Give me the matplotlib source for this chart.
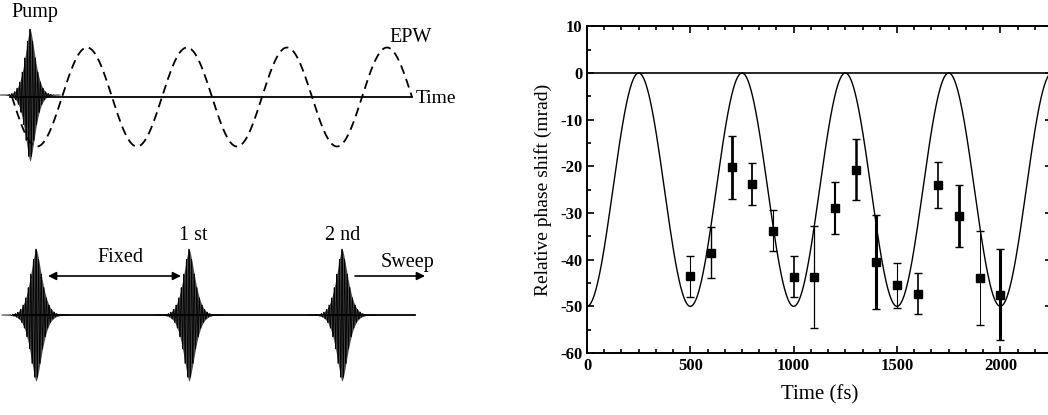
import numpy as np
import matplotlib
matplotlib.use("Agg")
import matplotlib.pyplot as plt
from matplotlib.ticker import MultipleLocator

plt.rcParams['font.family'] = ['Liberation Serif', 'DejaVu Serif']
plt.rcParams['axes.unicode_minus'] = False

# measured phase shift (mrad) vs probe delay (fs)
delay = [500, 600, 700, 800, 900, 1000, 1100, 1200, 1300, 1400,
         1500, 1600, 1700, 1800, 1900, 2000]
shift = [-43.6, -38.5, -20.2, -23.7, -33.8, -43.7, -43.7, -28.9, -20.7, -40.5,
         -45.5, -47.3, -24.0, -30.7, -43.9, -47.5]
err = [4.4, 5.5, 6.7, 4.5, 4.4, 4.4, 11.0, 5.5, 6.6, 10.0,
       4.8, 4.4, 5.0, 6.6, 10.0, 9.7]
bar_lw = [0.8, 1.0, 2.0, 1.3, 0.8, 1.2, 0.9, 1.5, 1.8, 2.2,
          0.8, 1.2, 1.2, 2.0, 0.7, 2.2]

# fitted plasma wave: offset - amp*cos(2*pi*t/period)
fit_period = 500.0
fit_amp = 25.0
fit_offset = -25.0

# schematic: pulse positions (left panel, pixel units)
pump_top = 30
probe_pos = [36, 189, 342]

fig = plt.figure(figsize=(10.48, 4.15), dpi=100)

# ---------------- left: schematic ----------------
ax0 = fig.add_axes([0, 0, 470 / 1048, 1])
ax0.set_xlim(0, 470)
ax0.set_ylim(415, 0)
ax0.axis('off')


def pulse(ax, x0, y0, h, w):
    xx = np.linspace(x0 - 4 * w, x0 + 4 * w, 1500)
    env = h * np.exp(-np.abs((xx - x0) / w) ** 1.5)
    ax.fill_between(xx, y0 - env, y0 + env, color='black', lw=0, alpha=0.7)
    ax.plot(xx, y0 - env * np.cos(2 * np.pi * (xx - x0) / 2.6), color='black', lw=0.6)


# top: pump + EPW
ax0.plot([10, 412], [97, 97], color='black', lw=1.3)
xw = np.linspace(12, 412, 800)
ax0.plot(xw, 97 + 49.5 * np.sin(2 * np.pi * (xw - 12) / 100), color='black',
         lw=1.3, ls=(0, (5, 3)))
pulse(ax0, pump_top, 95, 66, 7.5)
ax0.text(11, 12, "Pump", fontsize=14.5, va='center', ha='left')
ax0.text(389, 37, "EPW", fontsize=14.5, va='center', ha='left')
ax0.text(416, 98, "Time", fontsize=14, va='center', ha='left')

# bottom: pump, 1st and 2nd probe
ax0.plot([14, 415], [315, 315], color='black', lw=1.3)
for xp in probe_pos:
    pulse(ax0, xp, 315, 66, 8.5)
ax0.annotate("", xy=(48, 276), xytext=(181, 276),
             arrowprops=dict(arrowstyle='<|-|>', color='black', lw=1.2,
                             mutation_scale=12, shrinkA=0, shrinkB=0))
ax0.annotate("", xy=(425, 276), xytext=(355, 276),
             arrowprops=dict(arrowstyle='-|>', color='black', lw=1.2,
                             mutation_scale=12, shrinkA=0, shrinkB=0))
ax0.text(120, 257, "Fixed", fontsize=14.5, ha='center', va='center')
ax0.text(193, 235, "1 st", fontsize=14.5, ha='center', va='center')
ax0.text(343, 235, "2 nd", fontsize=14.5, ha='center', va='center')
ax0.text(408, 262, "Sweep", fontsize=14.5, ha='center', va='center')

# ---------------- right: phase shift ----------------
ax = fig.add_axes([587 / 1048, 62 / 415, 465 / 1048, 326.7 / 415])
t = np.linspace(0, 2250, 1200)
ax.plot(t, fit_offset - fit_amp * np.cos(2 * np.pi * t / fit_period),
        color='black', lw=1.0)
ax.axhline(0, color='black', lw=1.2)
for d, s, e, lw in zip(delay, shift, err, bar_lw):
    ax.errorbar(d, s, yerr=e, fmt='s', color='black', ms=6,
                elinewidth=lw, capsize=3, capthick=1.0)

ax.set_xlim(0, 2250)
ax.set_ylim(-60, 10)
ax.xaxis.set_major_locator(MultipleLocator(500))
ax.xaxis.set_minor_locator(MultipleLocator(500 / 6))
ax.yaxis.set_major_locator(MultipleLocator(10))
ax.yaxis.set_minor_locator(MultipleLocator(5))
ax.tick_params(which='both', direction='in', top=True, right=True, width=1.2)
ax.tick_params(which='major', length=5, labelsize=12)
ax.tick_params(which='minor', length=3)
for lab in ax.get_xticklabels() + ax.get_yticklabels():
    lab.set_fontweight('bold')
for sp in ax.spines.values():
    sp.set_linewidth(1.4)
ax.set_xlabel("Time (fs)", fontsize=15, labelpad=8)
ax.set_ylabel("Relative phase shift (mrad)", fontsize=14, labelpad=6)

fig.savefig("out.png", dpi=100)
